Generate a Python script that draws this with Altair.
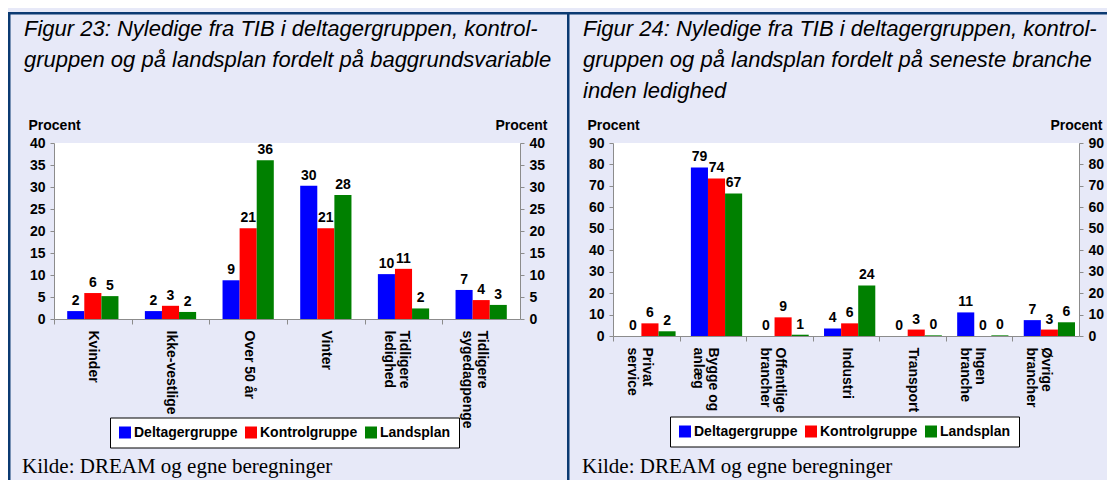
import altair as alt
import pandas as pd

# ---------------- data ----------------
GROUPS = ["Deltagergruppe", "Kontrolgruppe", "Landsplan"]
COLORS = ["#0000FF", "#FF0000", "#008000"]

title23 = ["Figur 23: Nyledige fra TIB i deltagergruppen, kontrol-",
           "gruppen og på landsplan fordelt på baggrundsvariable"]
cat23 = ["Kvinder", "Ikke-vestlige", "Over 50 år", "Vinter",
         "Tidligere\nledighed", "Tidligere\nsygedagpenge"]
delt23 = [1.8, 1.8, 8.8, 30.3, 10.2, 6.6]
kont23 = [5.9, 3.0, 20.6, 20.6, 11.4, 4.3]
land23 = [5.2, 1.6, 36.1, 28.2, 2.4, 3.2]
ticks23 = [0, 5, 10, 15, 20, 25, 30, 35, 40]

title24 = ["Figur 24: Nyledige fra TIB i deltagergruppen, kontrol-",
           "gruppen og på landsplan fordelt på seneste branche",
           "inden ledighed"]
cat24 = ["Privat\nservice", "Bygge og\nanlæg", "Offentlige\nbrancher", "Industri",
         "Transport", "Ingen\nbranche", "Øvrige\nbrancher"]
delt24 = [0.0, 78.6, 0.0, 3.5, 0.0, 11.0, 7.4]
kont24 = [5.9, 73.5, 8.7, 5.9, 3.0, 0.0, 3.0]
land24 = [2.2, 66.5, 0.6, 23.6, 0.3, 0.3, 6.4]
ticks24 = [0, 10, 20, 30, 40, 50, 60, 70, 80, 90]

source = "Kilde: DREAM og egne beregninger"

# ---------------- style ----------------
BG = "#E7E9F8"
NAVY = "#0B3A72"
GREY = "#8C8C8C"
FONT = "Liberation Sans"
W = 466


def long_df(cats, d, k, l):
    rows = []
    for c, a, b, e in zip(cats, d, k, l):
        rows.append({"cat": c, "grp": GROUPS[0], "val": a})
        rows.append({"cat": c, "grp": GROUPS[1], "val": b})
        rows.append({"cat": c, "grp": GROUPS[2], "val": e})
    return pd.DataFrame(rows)


def y_axis(orient, ticks, title_x, align):
    return alt.Axis(orient=orient, values=ticks, title="Procent", titleAngle=0,
                    titleX=title_x, titleY=-14, titleAlign=align,
                    titleBaseline="alphabetic", titleFont=FONT, titleFontSize=14,
                    titleFontWeight="bold", titleColor="black",
                    labelFont=FONT, labelFontSize=14, labelFontWeight="bold",
                    labelColor="black", labelPadding=5, tickSize=4,
                    tickColor=GREY, domainColor=GREY, grid=False)


def panel(df, cats, ticks, height, title, title_offset, legend_xy, src_x,
          right_end, right_title_x):
    step = W / len(cats)
    ymax = ticks[-1]
    xenc = alt.X("cat:N", sort=cats,
                 scale=alt.Scale(paddingInner=0.34, paddingOuter=0.17),
                 axis=alt.Axis(title=None, labelAngle=90,
                               labelExpr="split(datum.label, '\\n')",
                               labelAlign="left", labelBaseline="middle",
                               labelFont=FONT, labelFontSize=14,
                               labelFontWeight="bold", labelColor="black",
                               labelLineHeight=15, labelPadding=6,
                               labelOverlap=False, labelLimit=300,
                               tickSize=5, tickColor=GREY, domainColor=GREY,
                               tickOffset=-step / 2, labelOffset=step / 2,
                               grid=False))
    xoff = alt.XOffset("grp:N", sort=GROUPS,
                       scale=alt.Scale(paddingInner=0, paddingOuter=0))
    yscale = alt.Scale(domain=[0, ymax], nice=False)

    bars = alt.Chart(df).mark_bar().encode(
        x=xenc, xOffset=xoff,
        y=alt.Y("val:Q", scale=yscale, axis=y_axis("left", ticks, -26, "left")),
        color=alt.Color("grp:N", sort=GROUPS,
                        scale=alt.Scale(domain=GROUPS, range=COLORS),
                        legend=alt.Legend(title=None, orient="none",
                                          legendX=legend_xy[0], legendY=legend_xy[1],
                                          direction="horizontal", fillColor="white",
                                          strokeColor="black", padding=8,
                                          symbolType="square", symbolSize=144,
                                          symbolStrokeWidth=0, symbolOpacity=1,
                                          labelFont=FONT, labelFontSize=14,
                                          labelFontWeight="bold", labelColor="black",
                                          labelOffset=2, columnPadding=6)),
    )
    labels = alt.Chart(df).mark_text(dy=-6, baseline="alphabetic", font=FONT,
                                     fontSize=14, fontWeight="bold",
                                     color="black").encode(
        x=xenc, xOffset=xoff,
        y=alt.Y("val:Q", scale=yscale,
                axis=y_axis("right", ticks, right_title_x, "right")),
        text=alt.Text("val:Q", format=".0f"),
    )

    deco = pd.DataFrame({"k": [0]})
    # panel frame: top border and left border (filled strips, no stroke)
    top_bar = alt.Chart(deco).mark_rect(color=NAVY).encode(
        x=alt.value(-46), x2=alt.value(right_end), y=alt.value(-131), y2=alt.value(-128.5))
    side_bar = alt.Chart(deco).mark_rect(color=NAVY).encode(
        x=alt.value(-46), x2=alt.value(-43.5), y=alt.value(-131), y2=alt.value(345))
    src = alt.Chart(deco).mark_text(align="left", baseline="alphabetic",
                                    font="Liberation Serif", fontSize=21,
                                    color="black").encode(
        x=alt.value(src_x), y=alt.value(330), text=alt.value(source))

    return alt.layer(top_bar, side_bar, bars, labels, src).resolve_scale(
        y="shared").resolve_axis(y="independent").properties(
        width=W, height=height,
        title=alt.TitleParams(text=title, anchor="start", frame="group",
                              orient="top", offset=title_offset, dx=-30,
                              font=FONT, fontStyle="italic", fontWeight="normal",
                              fontSize=22, lineHeight=31, color="black"))


p23 = panel(long_df(cat23, delt23, kont23, land23), cat23, ticks23, 176,
            title23, -59.5, (56, 274.5), -32, W + 47, 27)
p24 = panel(long_df(cat24, delt24, kont24, land24), cat24, ticks24, 193,
            title24, -90.5, (57, 273.5), -31, 494, 23)

chart = alt.hconcat(p23, p24, spacing=93, bounds="flush").resolve_scale(
    color="independent").configure(
    background=BG, padding={"left": 0, "top": 4, "right": 0, "bottom": 0}
).configure_view(stroke=None, fill="white")

chart.save("out.html", embed_options={"renderer": "svg", "actions": False})
